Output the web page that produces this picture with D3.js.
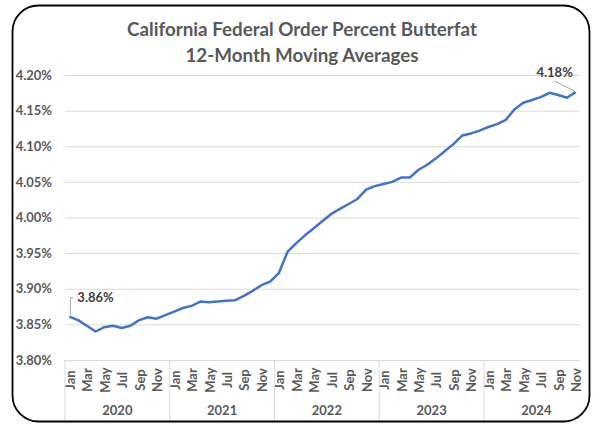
<!DOCTYPE html>
<html>
<head>
<meta charset="utf-8">
<script src="https://cdn.jsdelivr.net/npm/d3@7"></script>
<style>
  body { margin: 0; background: #fff; }
  svg { display: block; font-family: Lato, "Open Sans", sans-serif; }
</style>
</head>
<body>
<div id="chart"></div>
<script>
const years = ["2020", "2021", "2022", "2023", "2024"];
const monthNames = ["Jan", "Feb", "Mar", "Apr", "May", "Jun", "Jul", "Aug", "Sep", "Oct", "Nov", "Dec"];
const yTicks = [3.8, 3.85, 3.9, 3.95, 4.0, 4.05, 4.1, 4.15, 4.2];

// 12-month moving average butterfat %, Jan 2020 .. Nov 2024
const butterfat = [
  3.861, 3.856, 3.848, 3.840, 3.846, 3.848, 3.845, 3.848, 3.856, 3.860, 3.858, 3.863,
  3.868, 3.873, 3.876, 3.882, 3.881, 3.882, 3.883, 3.884, 3.890, 3.897, 3.905, 3.910,
  3.922, 3.952, 3.964, 3.975, 3.985, 3.995, 4.005, 4.012, 4.019, 4.026, 4.039, 4.044,
  4.047, 4.050, 4.056, 4.056, 4.067, 4.074, 4.083, 4.093, 4.103, 4.115, 4.118, 4.122,
  4.127, 4.131, 4.137, 4.152, 4.161, 4.165, 4.169, 4.175, 4.172, 4.168, 4.176
];

const data = butterfat.map((v, i) => ({
  i,
  year: years[Math.floor(i / 12)],
  month: monthNames[i % 12],
  value: v,
}));

const width = 600;
const height = 430;
const margin = { top: 75, right: 20, bottom: 70, left: 65 };

const svg = d3.select("#chart")
  .append("svg")
  .attr("width", width)
  .attr("height", height);

// frame
svg.append("rect")
  .attr("x", 12.5)
  .attr("y", 5.5)
  .attr("width", 577)
  .attr("height", 416)
  .attr("rx", 26)
  .attr("fill", "#fff")
  .attr("stroke", "#000")
  .attr("stroke-width", 1.8);

// title
const title = svg.append("text")
  .attr("text-anchor", "middle")
  .attr("font-weight", "bold")
  .attr("font-size", 18.8)
  .attr("fill", "#595959");
title.append("tspan").attr("x", 302).attr("y", 36).text("California Federal Order Percent Butterfat");
title.append("tspan").attr("x", 302).attr("y", 62).text("12-Month Moving Averages");

const x = d3.scaleBand()
  .domain(data.map((d) => d.i))
  .range([margin.left, width - margin.right]);

const y = d3.scaleLinear()
  .domain([3.8, 4.2])
  .range([height - margin.bottom, margin.top]);

const cx = (i) => x(i) + x.bandwidth() / 2;

// y axis with gridlines
svg.append("g")
  .attr("transform", `translate(${margin.left},0)`)
  .call(d3.axisLeft(y).tickValues(yTicks).tickSize(-(width - margin.left - margin.right)).tickPadding(13)
    .tickFormat((d) => d3.format(".2f")(d) + "%"))
  .call((g) => g.select(".domain").remove())
  .call((g) => g.selectAll(".tick line").attr("stroke", "#d9d9d9").attr("stroke-width", 1))
  .call((g) => g.selectAll(".tick text")
    .attr("font-family", "Lato, sans-serif")
    .attr("font-size", 13)
    .attr("font-weight", "bold")
    .attr("fill", "#595959"));

// x axis: months
const gx = svg.append("g")
  .attr("transform", `translate(0,${height - margin.bottom})`);

gx.selectAll("text.month")
  .data(data.filter((d) => d.i % 2 === 0))
  .join("text")
  .attr("class", "month")
  .attr("transform", (d) => `translate(${cx(d.i) + 5.5},20) rotate(-90)`)
  .attr("text-anchor", "middle")
  .attr("font-size", 13)
  .attr("font-weight", "bold")
  .attr("fill", "#595959")
  .text((d) => d.month);

// year separators
gx.selectAll("line.sep")
  .data(d3.range(0, years.length).map((k) => k * 12))
  .join("line")
  .attr("class", "sep")
  .attr("x1", (k) => x(k))
  .attr("x2", (k) => x(k))
  .attr("y1", 0)
  .attr("y2", 60)
  .attr("stroke", "#d9d9d9");

gx.selectAll("text.year")
  .data(years)
  .join("text")
  .attr("class", "year")
  .attr("x", (d, k) => x(k * 12) + 6 * x.bandwidth())
  .attr("y", 55)
  .attr("text-anchor", "middle")
  .attr("font-size", 13)
  .attr("font-weight", "bold")
  .attr("fill", "#595959")
  .text((d) => d);

// line
const line = d3.line()
  .x((d) => cx(d.i))
  .y((d) => y(d.value));

svg.append("path")
  .datum(data)
  .attr("fill", "none")
  .attr("stroke", "#4472c4")
  .attr("stroke-width", 2.5)
  .attr("stroke-linejoin", "round")
  .attr("d", line);

// annotations
const first = data[0];
const last = data[data.length - 1];

svg.append("path")
  .attr("fill", "none")
  .attr("stroke", "#a6a6a6")
  .attr("stroke-width", 1)
  .attr("d", `M${cx(first.i) + 1},${y(first.value) - 2}V${y(first.value) - 19}h3`);

svg.append("text")
  .attr("x", cx(first.i) + 8)
  .attr("y", y(first.value) - 15)
  .attr("font-size", 13)
  .attr("font-weight", "bold")
  .attr("fill", "#404040")
  .text(d3.format(".2f")(first.value) + "%");

svg.append("line")
  .attr("x1", cx(last.i) - 1)
  .attr("y1", y(last.value) - 1)
  .attr("x2", cx(last.i) - 21)
  .attr("y2", y(last.value) - 11)
  .attr("stroke", "#a6a6a6")
  .attr("stroke-width", 1);

svg.append("text")
  .attr("x", cx(last.i) - 21)
  .attr("y", y(last.value) - 15)
  .attr("text-anchor", "middle")
  .attr("font-size", 13)
  .attr("font-weight", "bold")
  .attr("fill", "#404040")
  .text(d3.format(".2f")(last.value) + "%");
</script>
</body>
</html>
